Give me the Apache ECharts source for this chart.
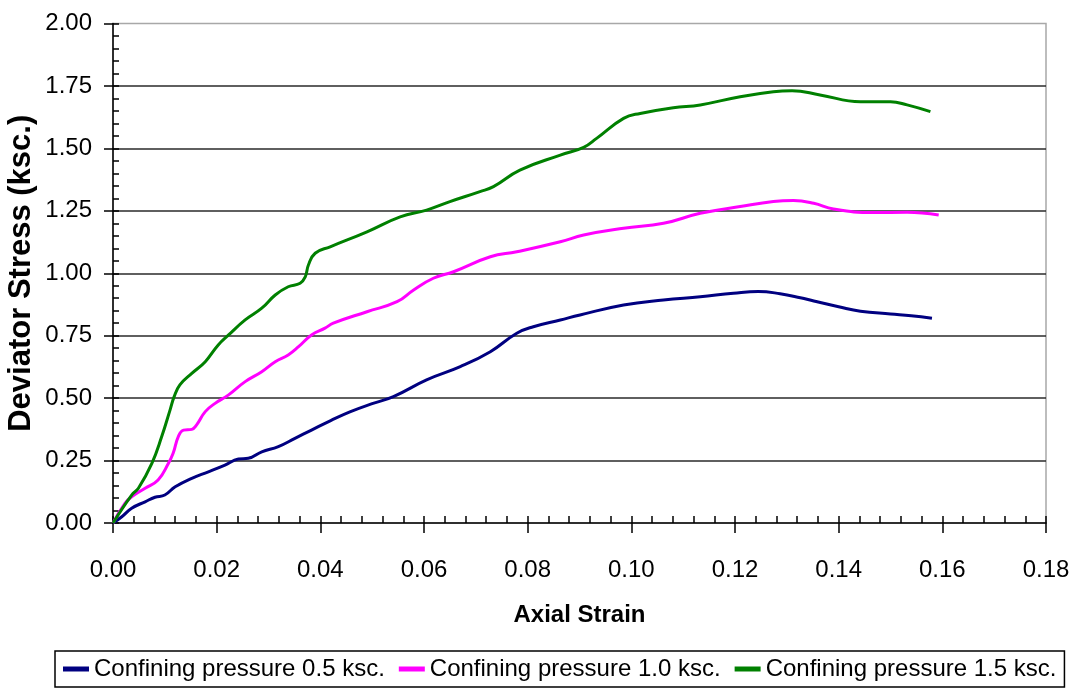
<!DOCTYPE html>
<html>
<head>
<meta charset="utf-8">
<script src="https://cdn.jsdelivr.net/npm/echarts@6/dist/echarts.min.js"></script>
<style>
  html, body { margin: 0; padding: 0; background: #fff; }
  #chart { width: 1078px; height: 688px; }
</style>
</head>
<body>
<div id="chart"></div>
<script>
// Triaxial test: deviator stress vs axial strain at three confining pressures
const seriesNames = [
  'Confining pressure 0.5 ksc.',
  'Confining pressure 1.0 ksc.',
  'Confining pressure 1.5 ksc.'
];
const seriesColors = ['#000080', '#ff00ff', '#008000'];

const strain05 = [0, 0.0017, 0.0036, 0.0062, 0.0081, 0.0100, 0.0120, 0.0152, 0.0184, 0.0216,
  0.0242, 0.0261, 0.0287, 0.0319, 0.0351, 0.0383, 0.0420, 0.0457, 0.0500, 0.0541,
  0.0605, 0.0670, 0.0728, 0.0779, 0.0811, 0.0863, 0.0901, 0.0985, 0.1062, 0.1133,
  0.1197, 0.1245, 0.1287, 0.1326, 0.1352, 0.1400, 0.1442, 0.1500, 0.1540, 0.1580];
const stress05 = [0, 0.025, 0.059, 0.085, 0.103, 0.112, 0.145, 0.179, 0.205, 0.232,
  0.256, 0.259, 0.285, 0.306, 0.339, 0.372, 0.410, 0.445, 0.478, 0.506,
  0.573, 0.626, 0.686, 0.760, 0.786, 0.813, 0.833, 0.873, 0.893, 0.906,
  0.920, 0.927, 0.918, 0.902, 0.889, 0.866, 0.848, 0.837, 0.830, 0.820];

const strain10 = [0, 0.0023, 0.0036, 0.0062, 0.0087, 0.0107, 0.0116, 0.0126, 0.0136, 0.0152,
  0.0161, 0.0178, 0.0197, 0.0223, 0.0255, 0.0287, 0.0313, 0.0338, 0.0358, 0.0383,
  0.0409, 0.0425, 0.0490, 0.0548, 0.0580, 0.0618, 0.0657, 0.0728, 0.0779, 0.0863,
  0.0908, 0.0985, 0.1062, 0.1133, 0.1210, 0.1274, 0.1313, 0.1352, 0.1390, 0.1467,
  0.1532, 0.1593];
const stress10 = [0, 0.079, 0.105, 0.139, 0.172, 0.239, 0.279, 0.346, 0.372, 0.375,
  0.392, 0.446, 0.479, 0.513, 0.566, 0.606, 0.646, 0.673, 0.706, 0.753,
  0.780, 0.800, 0.846, 0.886, 0.933, 0.980, 1.006, 1.066, 1.086, 1.126,
  1.153, 1.180, 1.200, 1.240, 1.267, 1.287, 1.291, 1.280, 1.257, 1.243,
  1.244, 1.233];

const strain15 = [0, 0.0036, 0.0049, 0.0075, 0.0094, 0.0110, 0.0118, 0.0129, 0.0152, 0.0178,
  0.0203, 0.0223, 0.0255, 0.0287, 0.0313, 0.0338, 0.0361, 0.0371, 0.0377, 0.0390,
  0.0419, 0.0490, 0.0554, 0.0605, 0.0650, 0.0708, 0.0734, 0.0785, 0.0863, 0.0908,
  0.0933, 0.0985, 0.1017, 0.1081, 0.1133, 0.1210, 0.1274, 0.1310, 0.1364, 0.1442,
  0.1500, 0.1532, 0.1577];
const stress15 = [0, 0.112, 0.139, 0.239, 0.346, 0.452, 0.506, 0.553, 0.599, 0.646,
  0.713, 0.753, 0.813, 0.860, 0.913, 0.946, 0.960, 0.986, 1.033, 1.080,
  1.106, 1.166, 1.226, 1.253, 1.287, 1.327, 1.347, 1.413, 1.473, 1.504,
  1.540, 1.620, 1.640, 1.663, 1.674, 1.707, 1.727, 1.731, 1.714, 1.687,
  1.687, 1.674, 1.647];

const xTitle = 'Axial Strain';
const yTitle = 'Deviator Stress (ksc.)';

const FONT = '"Liberation Sans", Arial, sans-serif';

function pairs(xs, ys) {
  return xs.map((x, i) => [x, ys[i]]);
}

const curves = [
  pairs(strain05, stress05),
  pairs(strain10, stress10),
  pairs(strain15, stress15)
];

const chart = echarts.init(document.getElementById('chart'), null, { renderer: 'canvas' });

const option = {
  backgroundColor: '#ffffff',
  animation: false,
  textStyle: { fontFamily: FONT, color: '#000' },
  grid: {
    left: 113, right: 32, top: 23.5, bottom: 165,
    containLabel: false, outerBoundsMode: 'none',
    show: true, borderColor: '#a8a8a8', borderWidth: 1.5, backgroundColor: 'transparent'
  },
  legend: {
    left: 55, top: 651,
    padding: [6, 8, 6, 8],
    itemGap: 14,
    itemWidth: 26, itemHeight: 5,
    icon: 'rect',
    borderColor: '#000', borderWidth: 1.5,
    textStyle: { fontFamily: FONT, fontSize: 24, color: '#000' },
    data: seriesNames
  },
  xAxis: [{
    type: 'value', min: 0, max: 0.18, interval: 0.02,
    name: xTitle, nameLocation: 'middle', nameGap: 80, nameMoveOverlap: false,
    nameTextStyle: { fontFamily: FONT, fontSize: 24, fontWeight: 'bold', color: '#000' },
    axisLine: { show: true, onZero: false, lineStyle: { color: '#000', width: 1.5 } },
    axisTick: { show: true, inside: false, length: 10, lineStyle: { color: '#000', width: 1.5 } },
    axisLabel: { margin: 35, fontFamily: FONT, fontSize: 24, color: '#000',
      formatter: v => v.toFixed(2) },
    splitLine: { show: false }
  }, {
    // minor ticks pointing into the plot area
    type: 'value', min: 0, max: 0.18, interval: 0.004, position: 'bottom',
    axisLine: { show: false },
    axisTick: { show: true, inside: true, length: 7, lineStyle: { color: '#000', width: 1.5 } },
    axisLabel: { show: false },
    splitLine: { show: false }
  }],
  yAxis: [{
    type: 'value', min: 0, max: 2, interval: 0.25,
    name: yTitle, nameLocation: 'middle', nameGap: 76, nameRotate: 90, nameMoveOverlap: false,
    nameTextStyle: { fontFamily: FONT, fontSize: 31, fontWeight: 'bold', color: '#000' },
    axisLine: { show: true, onZero: false, lineStyle: { color: '#000', width: 1.5 } },
    axisTick: { show: true, inside: false, length: 9, lineStyle: { color: '#000', width: 1.5 } },
    axisLabel: { margin: 21, fontFamily: FONT, fontSize: 24, color: '#000',
      formatter: v => v.toFixed(2) },
    splitLine: { show: true, showMinLine: false, showMaxLine: false,
      lineStyle: { color: '#2a2a2a', width: 1.5 } }
  }, {
    // minor ticks pointing into the plot area
    type: 'value', min: 0, max: 2, interval: 0.05, position: 'left',
    axisLine: { show: false },
    axisTick: { show: true, inside: true, length: 6, lineStyle: { color: '#000', width: 1.5 } },
    axisLabel: { show: false },
    splitLine: { show: false }
  }],
  series: curves.map((data, i) => ({
    name: seriesNames[i],
    type: 'line',
    xAxisIndex: 0,
    yAxisIndex: 0,
    data: data,
    smooth: 0.45,
    showSymbol: false,
    symbol: 'none',
    color: seriesColors[i],
    lineStyle: { color: seriesColors[i], width: 3 },
    z: 3
  }))
};

chart.setOption(option);
</script>
</body>
</html>
